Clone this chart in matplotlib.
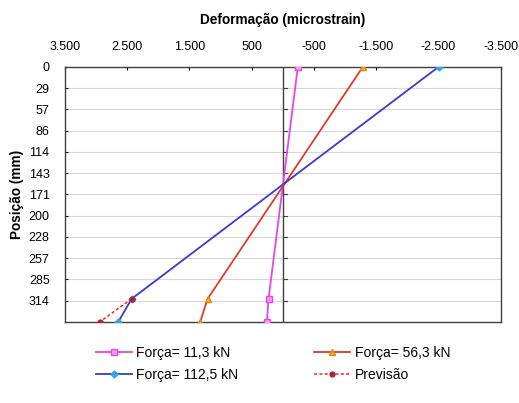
import numpy as np
import matplotlib.pyplot as plt
from matplotlib.ticker import FixedLocator, FuncFormatter

plt.rcParams['font.family'] = ['Liberation Sans', 'DejaVu Sans']

# position (mm) and strain (microstrain) for each load
pos = [0, 311, 342]
f11 = [-240, 230, 257]
f56 = [-1284, 1209, 1327]
f112 = [-2500, 2429, 2643]
prev_pos = [311, 342]
prev = [2429, 2942]

yticks = [0, 28.5, 57, 85.5, 114, 142.5, 171, 199.5, 228, 256.5, 285, 313.5]
xticks = [3500, 2500, 1500, 500, -500, -1500, -2500, -3500]


def fmt_x(v, _):
    s = f"{abs(int(round(v))):,}".replace(",", ".")
    return ("-" if v < 0 else "") + s


fig = plt.figure(figsize=(5.19, 4.03), dpi=100)
ax = fig.add_axes([0.125, 0.201, 0.84, 0.633])

for y in yticks[1:]:
    ax.axhline(y, color="#d8d8d8", lw=0.8, zorder=0)
ax.axvline(0, color="#404040", lw=1.0, zorder=1)
for y in yticks[1:]:
    ax.plot([0, -60], [y, y], color="#404040", lw=0.8, zorder=1)

l1, = ax.plot(f11, pos, color="#e844e8", lw=1.3, marker="s", ms=5,
              mfc="#ff9cf0", mec="#e844e8", label="Força= 11,3 kN", zorder=3)
l2, = ax.plot(f56, pos, color="#e03a2a", lw=1.3, marker="^", ms=5,
              mfc="#ffb020", mec="#e08a10", label="Força= 56,3 kN", zorder=3)
l3, = ax.plot(f112, pos, color="#3a3ad0", lw=1.3, marker="D", ms=3.5,
              mfc="#28a8e8", mec="#28a8e8", label="Força= 112,5 kN", zorder=3)
l4, = ax.plot(prev, prev_pos, color="#ff2020", lw=1.1, ls=(0, (2, 1.5)),
              marker="o", ms=3.5, mfc="#b0203a", mec="#b0203a",
              label="Previsão", zorder=4)

ax.set_xlim(3500, -3500)
ax.set_ylim(342, 0)
ax.xaxis.set_major_locator(FixedLocator(xticks))
ax.xaxis.set_major_formatter(FuncFormatter(fmt_x))
ax.xaxis.tick_top()
ax.xaxis.set_label_position("top")
ax.set_yticks(yticks)
ax.set_yticklabels([str(int(round(v + 0.01))) for v in yticks])
ax.tick_params(axis="both", labelsize=9, length=2, direction="in", colors="#000000")
ax.tick_params(axis="x", pad=10)
ax.tick_params(axis="y", pad=11)
for s in ax.spines.values():
    s.set_color("#404040")
    s.set_linewidth(1.0)

ax.set_xlabel("Deformação (microstrain)", fontsize=9.8, fontweight="bold", labelpad=12)
ax.set_ylabel("Posição (mm)", fontsize=9.8, fontweight="bold", labelpad=3)

fig.legend(handles=[l1, l3, l2, l4], ncol=2, loc="upper left",
           bbox_to_anchor=(0.16, 0.172), frameon=False, fontsize=10,
           handlelength=2.6, columnspacing=5.5, labelspacing=0.55,
           handletextpad=0.3)

fig.savefig("out.png", dpi=100)
